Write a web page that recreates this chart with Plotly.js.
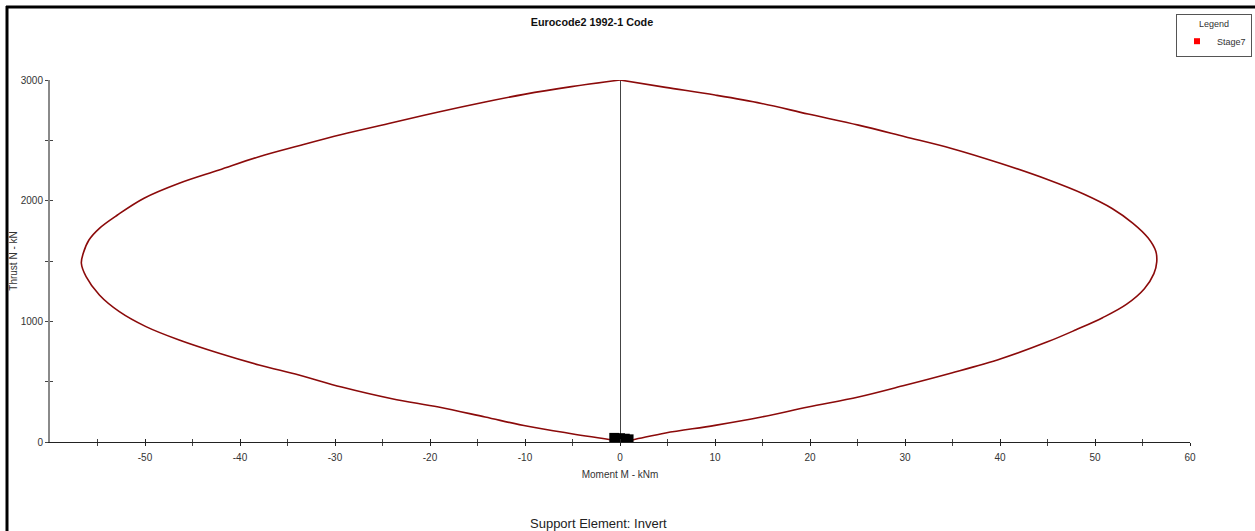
<!DOCTYPE html>
<html>
<head>
<meta charset="utf-8">
<script src="https://cdn.plot.ly/plotly-3.0.1.min.js"></script>
<style>html,body{margin:0;padding:0;background:#fff;}#chart{width:1255px;height:531px;}</style>
</head>
<body>
<div id="chart"></div>
<script>
// Interaction diagram (M-N envelope): right branch top -> bottom, left branch bottom -> top
const momentRight = [0, 4.8, 10.0, 14.9, 19.8, 25.1, 30.0, 34.9, 40.1, 45.0, 48.8, 51.8, 54.0, 55.6, 56.4, 56.5,
                     56.2, 55.2, 53.3, 50.8, 48.0, 45.0, 40.1, 34.9, 30.0, 25.1, 19.8, 14.9, 10.0, 4.8, 1.4, 0];
const thrustRight = [3000, 2939, 2875, 2806, 2718, 2626, 2530, 2433, 2308, 2175, 2055, 1935, 1812, 1690, 1580, 1493,
                     1395, 1270, 1140, 1030, 930, 830, 690, 572, 470, 373, 290, 207, 138, 75, 19, 0];
const momentLeft = [0, -5.1, -9.7, -14.2, -19.1, -24.0, -29.3, -33.8, -38.0, -42.2, -46.4, -49.9, -52.7, -54.8, -56.2,
                    -56.7, -56.5, -55.9, -54.8, -52.9, -50.1, -46.4, -42.2, -38.0, -33.8, -29.3, -24.0, -19.1, -14.2, -10.1, -5.1, 0];
const thrustLeft = [8, 69, 130, 207, 290, 359, 456, 555, 638, 735, 845, 956, 1080, 1218, 1370,
                    1481, 1564, 1674, 1771, 1881, 2020, 2144, 2254, 2364, 2455, 2548, 2645, 2735, 2818, 2881, 2945, 3000];
// Stage7 design points (cluster near the origin)
const stageM = [-0.6, 0.0, 0.5, 0.9];
const stageN = [34, 31, 27, 22];
const xTickVals = [-50, -40, -30, -20, -10, 0, 10, 20, 30, 40, 50, 60];
const xTickText = ['-50', '-40', '-30', '-20', '-10', '0', '10', '20', '30', '40', '50', '60'];
const xMinorVals = [-55, -45, -35, -25, -15, -5, 5, 15, 25, 35, 45, 55];
const yTickVals = [0, 1000, 2000, 3000];
const yTickText = ['0', '1000', '2000', '3000'];
const yMinorVals = [500, 1500, 2500];

const curveLine = {color: '#8b0a0a', width: 1.6, shape: 'spline', smoothing: 1};
const envelopeRight = {
  x: momentRight, y: thrustRight, type: 'scatter', mode: 'lines',
  line: curveLine, showlegend: false, hoverinfo: 'skip'
};
const envelopeLeft = {
  x: momentLeft, y: thrustLeft, type: 'scatter', mode: 'lines',
  line: curveLine, showlegend: false, hoverinfo: 'skip'
};
const stageLegend = {
  x: stageM, y: stageN, type: 'scatter', mode: 'markers', name: 'Stage7',
  marker: {symbol: 'square', color: '#ff0000', size: 6},
  showlegend: true
};
const stageMarks = {
  x: stageM, y: stageN, type: 'scatter', mode: 'markers', name: 'Stage7 points',
  marker: {symbol: 'square', color: '#000000', size: 10},
  showlegend: false
};
const tickAxisStub = {
  x: [null], y: [null], xaxis: 'x2', yaxis: 'y2', type: 'scatter', mode: 'markers',
  showlegend: false, hoverinfo: 'skip'
};

const FAM = 'Liberation Sans, Arial, sans-serif';
const font = {family: FAM, size: 10, color: '#333'};
const legendFont = {family: FAM, size: 9, color: '#333'};
const L = 50, R = 65, T = 80, B = 89, W = 1255, H = 531;
const pw = W - L - R, ph = H - T - B;
const px = v => (v - L) / pw;
const py = v => (H - B - v) / ph;

const layout = {
  width: W, height: H,
  margin: {l: L, r: R, t: T, b: B, pad: 0, autoexpand: false},
  paper_bgcolor: '#fff', plot_bgcolor: '#fff',
  font: font,
  title: {text: '<b>Eurocode2 1992-1 Code</b>', font: {family: FAM, size: 10.8, color: '#111'},
          x: px(592), xref: 'paper', xanchor: 'center', y: 1 - 22 / H, yref: 'container', yanchor: 'middle'},
  xaxis: {
    range: [-60, 60], showgrid: false, zeroline: true, zerolinecolor: '#444', zerolinewidth: 1,
    showline: true, linecolor: '#222', linewidth: 1, automargin: false,
    tickmode: 'array', tickvals: xTickVals, ticktext: xTickText, ticks: 'outside', ticklen: 3, tickcolor: '#222', tickwidth: 1,
    ticklabelstandoff: 3,
    minor: {tickmode: 'array', tickvals: xMinorVals, ticks: 'outside', ticklen: 3, tickcolor: '#444', tickwidth: 1},
    tickfont: font, fixedrange: true,
    title: {text: 'Moment M - kNm', font: font, standoff: 8}
  },
  yaxis: {
    range: [0, 3000], showgrid: false, zeroline: false, automargin: false,
    showline: true, linecolor: '#8a8a8a', linewidth: 2,
    tickmode: 'array', tickvals: yTickVals, ticktext: yTickText, ticks: 'outside', ticklen: 3, tickcolor: '#444', tickwidth: 1,
    minor: {tickmode: 'array', tickvals: yMinorVals, ticks: 'outside', ticklen: 3, tickcolor: '#444', tickwidth: 1},
    tickfont: font, fixedrange: true,
    title: {text: 'Thrust N - kN', font: font, standoff: 1}
  },
  xaxis2: {
    overlaying: 'x', matches: 'x', range: [-60, 60], showgrid: false, zeroline: false, showline: false,
    tickmode: 'array', tickvals: xTickVals, ticks: 'inside', ticklen: 3, tickcolor: '#222', showticklabels: false,
    minor: {tickmode: 'array', tickvals: xMinorVals, ticks: 'inside', ticklen: 3, tickcolor: '#444'}
  },
  yaxis2: {
    overlaying: 'y', matches: 'y', range: [0, 3000], showgrid: false, zeroline: false, showline: false,
    tickmode: 'array', tickvals: yTickVals, ticks: 'inside', ticklen: 3, tickcolor: '#444', showticklabels: false,
    minor: {tickmode: 'array', tickvals: yMinorVals, ticks: 'inside', ticklen: 3, tickcolor: '#444'}
  },
  showlegend: true,
  legend: {
    x: px(1252), xanchor: 'right', y: py(14), yanchor: 'top',
    bgcolor: '#fff', bordercolor: '#555', borderwidth: 1,
    font: legendFont, entrywidth: 58,
    title: {text: 'Legend', side: 'top center', font: legendFont},
    itemwidth: 30, tracegroupgap: 0
  },
  shapes: [
    {type: 'line', xref: 'paper', yref: 'paper', x0: px(7), x1: px(7), y0: py(6), y1: py(H + 5), line: {color: '#000', width: 3}},
    {type: 'line', xref: 'paper', yref: 'paper', x0: px(6), x1: px(W + 5), y0: py(7), y1: py(7), line: {color: '#000', width: 3}}
  ],
  annotations: [
    {text: 'Support Element: Invert', xref: 'paper', yref: 'paper', x: px(598), y: py(523),
     xanchor: 'center', yanchor: 'middle', showarrow: false,
     font: {family: FAM, size: 13, color: '#222'}}
  ]
};

Plotly.newPlot('chart', [envelopeRight, envelopeLeft, stageLegend, stageMarks, tickAxisStub], layout, {displayModeBar: false, staticPlot: true});
</script>
</body>
</html>
